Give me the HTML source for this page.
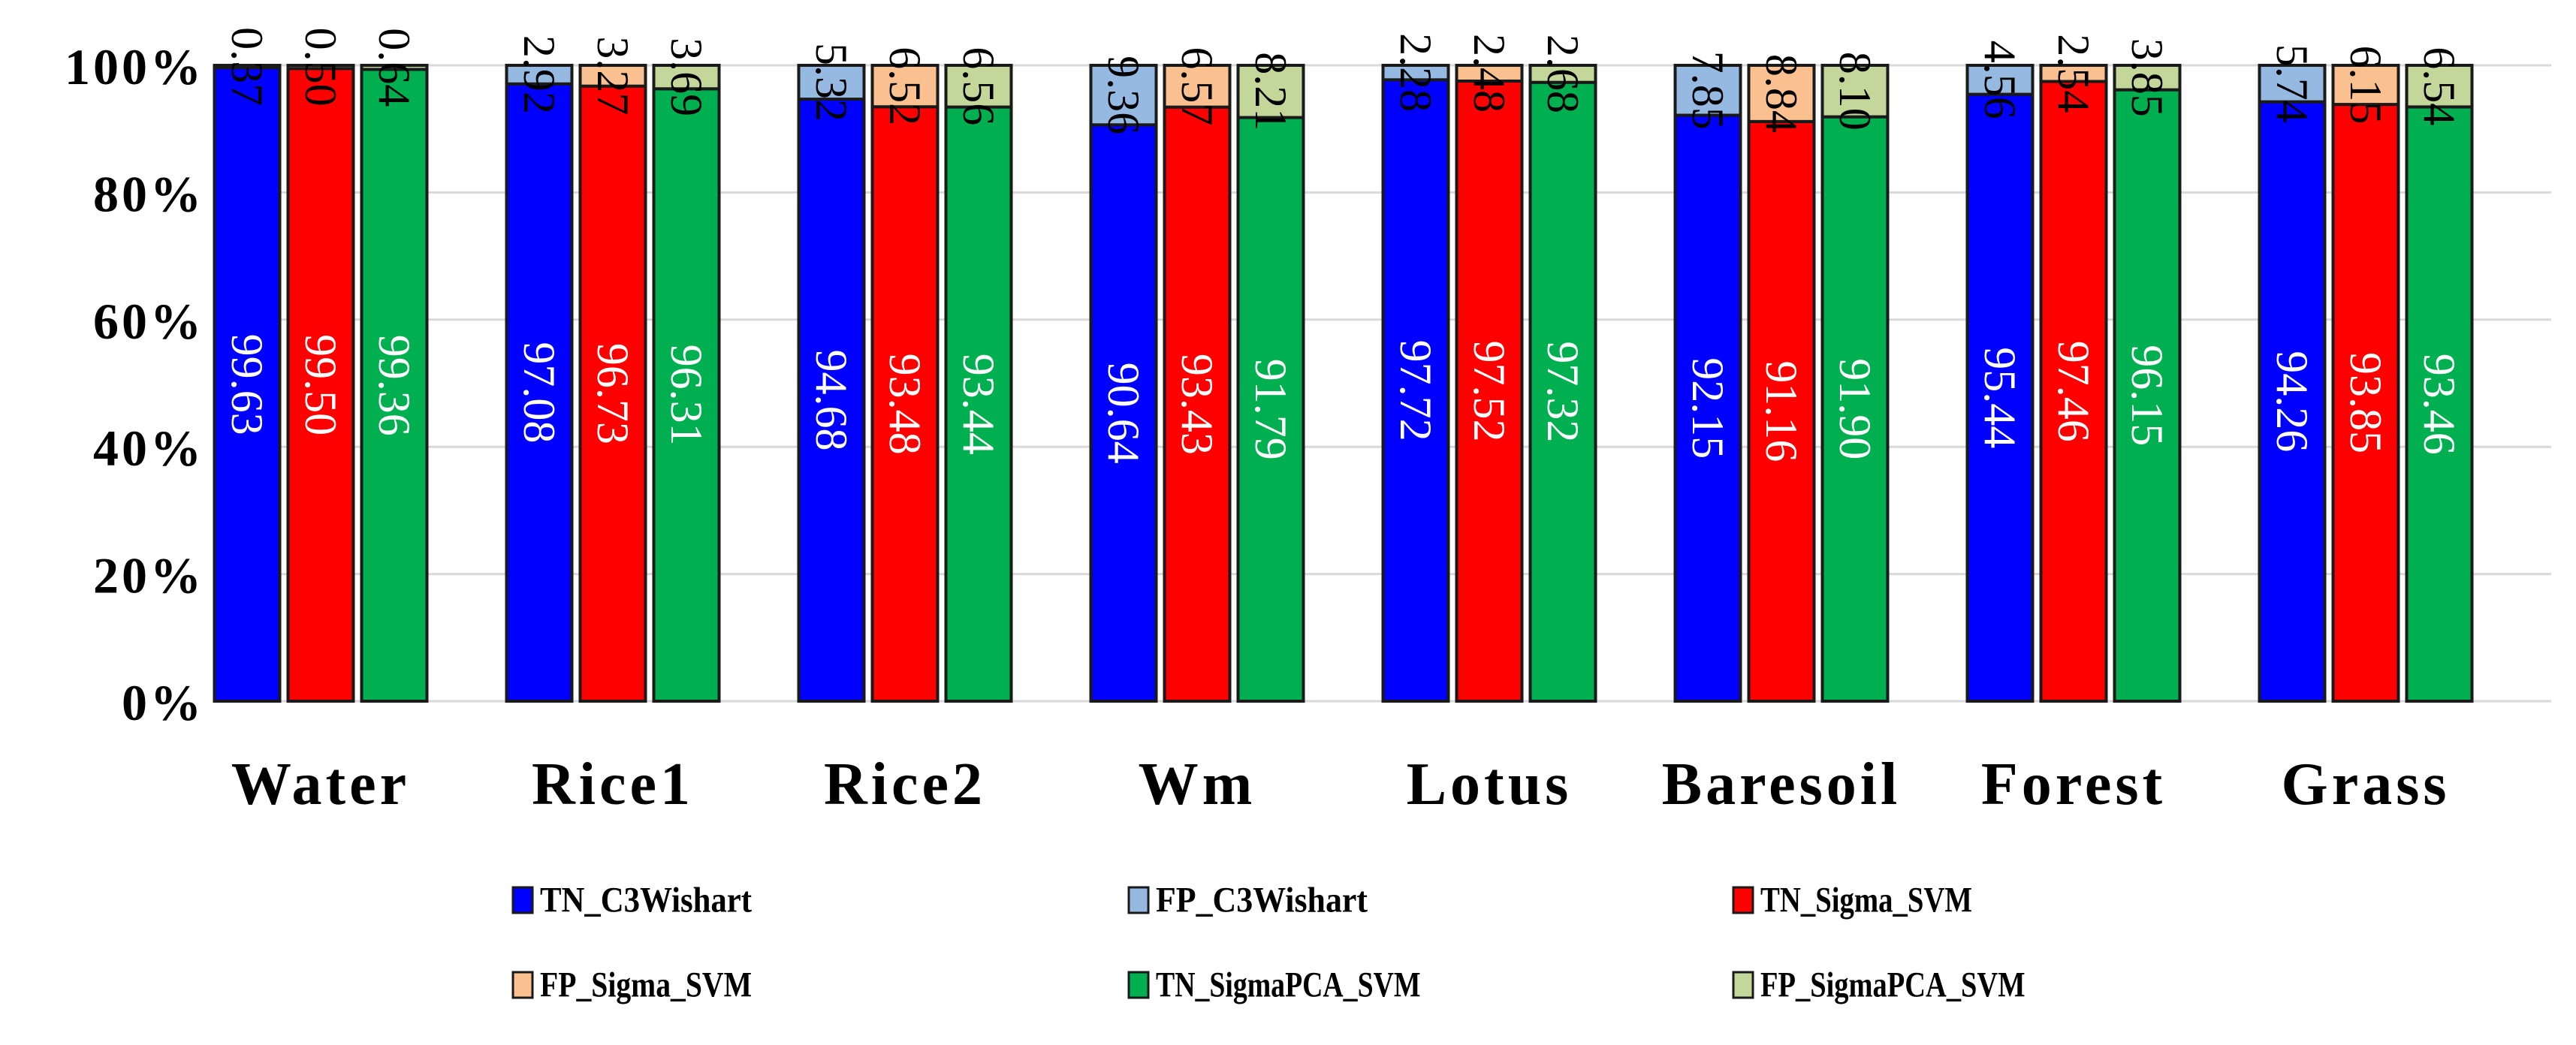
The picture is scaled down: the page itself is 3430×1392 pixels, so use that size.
<!DOCTYPE html>
<html><head><meta charset="utf-8"><style>
html,body{margin:0;padding:0;background:#fff;}
svg{display:block;font-family:"Liberation Serif",serif;}
</style></head><body>
<svg id="chart" width="3430" height="1392" viewBox="0 0 3430 1392"></svg>
<script>
const categories = ["Water","Rice1","Rice2","Wm","Lotus","Baresoil","Forest","Grass"];
const tnC3W = [99.63,97.08,94.68,90.64,97.72,92.15,95.44,94.26];
const fpC3W = [0.37,2.92,5.32,9.36,2.28,7.85,4.56,5.74];
const tnSigma = [99.50,96.73,93.48,93.43,97.52,91.16,97.46,93.85];
const fpSigma = [0.50,3.27,6.52,6.57,2.48,8.84,2.54,6.15];
const tnPCA = [99.36,96.31,93.44,91.79,97.32,91.90,96.15,93.46];
const fpPCA = [0.64,3.69,6.56,8.21,2.68,8.10,3.85,6.54];
const yTicks = [0,20,40,60,80,100];
const seriesNames = ["TN_C3Wishart","FP_C3Wishart","TN_Sigma_SVM","FP_Sigma_SVM","TN_SigmaPCA_SVM","FP_SigmaPCA_SVM"];

const NS="http://www.w3.org/2000/svg";
const svg=document.getElementById('chart');
const y0=934, y100=87;
const yScale=v=>y0-(v/100)*(y0-y100);
const firstCenter=427, slot=389;
const xCenter=i=>firstCenter+i*slot;
const barW=87, step=98;
function mk(tag,attrs,parent){const e=document.createElementNS(NS,tag);for(const k in attrs)e.setAttribute(k,attrs[k]);(parent||svg).appendChild(e);return e;}

yTicks.forEach(t=>{
  const g=mk('line',{x1:284,x2:3397,y1:yScale(t),y2:yScale(t),stroke:'#d9d9d9','stroke-width':3});
  
  
  const l=mk('text',{x:272,y:yScale(t)+2,'text-anchor':'end','dominant-baseline':'central','font-size':68,'font-weight':'bold','letter-spacing':4,fill:'#000'});
  l.textContent=t+'%';
  
  
});

const groups=[
 {tn:tnC3W,fp:fpC3W,c1:'#0000ff',c2:'#95b9e0',tc:'#ffffff',key:'c3wishart'},
 {tn:tnSigma,fp:fpSigma,c1:'#ff0000',c2:'#fac090',tc:'#ffffff',key:'sigma'},
 {tn:tnPCA,fp:fpPCA,c1:'#00b050',c2:'#c4d79b',tc:'#ffffff',key:'sigmapca'}
];
categories.forEach((cat,i)=>{
  groups.forEach((s,j)=>{
    const x=xCenter(i)+(j-1)*step-barW/2;
    const tn=s.tn[i], fp=s.fp[i];
    const r1=mk('rect',{x:x,y:yScale(tn),width:barW,height:yScale(0)-yScale(tn),fill:s.c1,stroke:'#1a1a1a','stroke-width':4});
    
    
    const r2=mk('rect',{x:x,y:yScale(tn+fp),width:barW,height:yScale(tn)-yScale(tn+fp),fill:s.c2,stroke:'#1a1a1a','stroke-width':4});
    
    
    const cx=x+barW/2;
    const cy1=(yScale(tn)+yScale(0))/2;
    const t1=mk('text',{x:0,y:0,transform:`translate(${cx},${cy1}) rotate(90)`,'text-anchor':'middle','dominant-baseline':'central','font-size':60,fill:s.tc});
    t1.textContent=tn.toFixed(2);
    
    
    const cy2=(yScale(tn)+yScale(tn+fp))/2;
    const t2=mk('text',{x:0,y:0,transform:`translate(${cx},${cy2}) rotate(90)`,'text-anchor':'middle','dominant-baseline':'central','font-size':60,fill:'#000'});
    t2.textContent=fp.toFixed(2);
    
    
  });
  const cl=mk('text',{x:xCenter(i),y:1045,'text-anchor':'middle','dominant-baseline':'central','font-size':80,'font-weight':'bold','letter-spacing':5,fill:'#000'});
  cl.textContent=cat;
  
  
});

const legColors=['#0000ff','#95b9e0','#ff0000','#fac090','#00b050','#c4d79b'];
const legX=[683,1503,2308], legY=[1199,1312];
seriesNames.forEach((n,k)=>{
  const x=legX[k%3], y=legY[Math.floor(k/3)];
  const sw=mk('rect',{x:x,y:y-17,width:26,height:34,fill:legColors[k],stroke:'#1a1a1a','stroke-width':3});
  
  
  const t=mk('text',{x:x+36,y:y,'dominant-baseline':'central','font-size':48,'font-weight':'bold',fill:'#000',textLength:n.length*23.5,lengthAdjust:'spacingAndGlyphs'});
  t.textContent=n;
  
  
});
</script>
</body></html>
